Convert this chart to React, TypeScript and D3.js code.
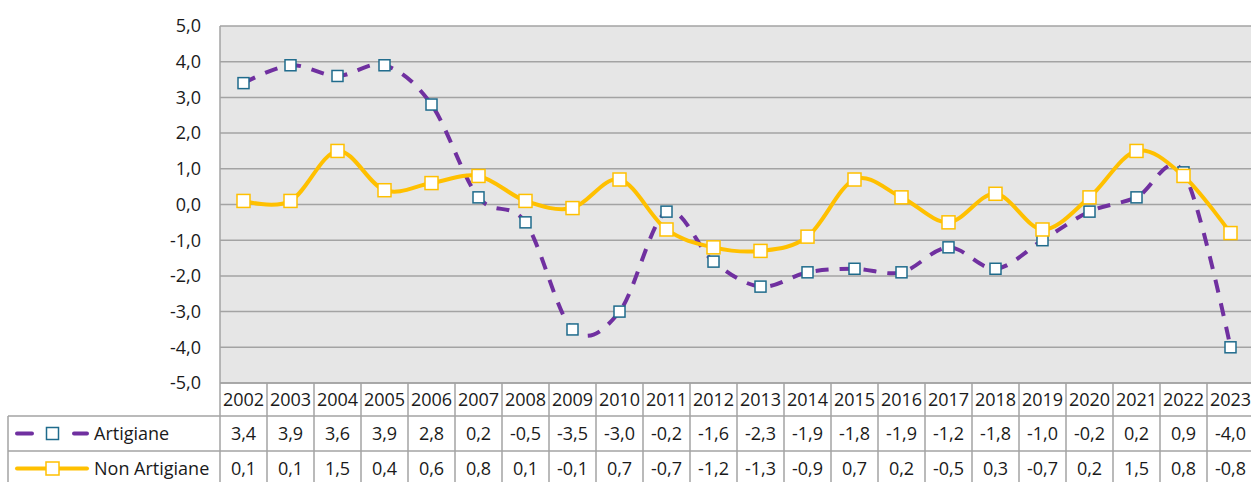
import * as d3 from 'd3';
import { useEffect, useRef } from 'react';

const years = ['2002', '2003', '2004', '2005', '2006', '2007', '2008', '2009', '2010', '2011', '2012', '2013', '2014', '2015', '2016', '2017', '2018', '2019', '2020', '2021', '2022', '2023'];
const artigiane = [3.4, 3.9, 3.6, 3.9, 2.8, 0.2, -0.5, -3.5, -3.0, -0.2, -1.6, -2.3, -1.9, -1.8, -1.9, -1.2, -1.8, -1.0, -0.2, 0.2, 0.9, -4.0];
const nonArtigiane = [0.1, 0.1, 1.5, 0.4, 0.6, 0.8, 0.1, -0.1, 0.7, -0.7, -1.2, -1.3, -0.9, 0.7, 0.2, -0.5, 0.3, -0.7, 0.2, 1.5, 0.8, -0.8];
const yTicks = [-5, -4, -3, -2, -1, 0, 1, 2, 3, 4, 5];

const fmt = (v: number) => v.toFixed(1).replace('.', ',');

export default function App() {
    const ref = useRef<HTMLDivElement>(null);

    useEffect(() => {
        const width = 1251;
        const height = 482;
        const plot = { left: 220, right: 1254, top: 26, bottom: 383 };
        const headH = 33;
        const rowH = 35;
        const tableLeft = 8;
        const font = '"Open Sans", Lato, sans-serif';
        const fontSize = 18;
        const gridColor = '#a3a3a3';
        const purple = '#7030a0';
        const gold = '#ffc000';
        const markerBlue = '#1f6b8c';
        const textColor = '#1a1a1a';

        const svg = d3.create('svg')
            .attr('width', width)
            .attr('height', height)
            .style('position', 'absolute')
            .style('left', 0)
            .style('top', 0)
            .style('font-family', font);

        const x = d3.scaleBand<string>().domain(years).range([plot.left, plot.right]).padding(0);
        const y = d3.scaleLinear().domain([-5, 5]).range([plot.bottom, plot.top]);
        const cx = (i: number) => (x(years[i]) as number) + x.bandwidth() / 2;

        // plot background
        svg.append('rect')
            .attr('x', plot.left).attr('y', plot.top)
            .attr('width', plot.right - plot.left).attr('height', plot.bottom - plot.top)
            .attr('fill', '#e6e6e6');

        // gridlines
        svg.append('g')
            .selectAll('line')
            .data(yTicks)
            .join('line')
            .attr('x1', plot.left).attr('x2', plot.right)
            .attr('y1', d => y(d)).attr('y2', d => y(d))
            .attr('stroke', gridColor).attr('stroke-width', 1.5);

        svg.append('line')
            .attr('x1', plot.left).attr('x2', plot.left)
            .attr('y1', plot.top).attr('y2', plot.bottom)
            .attr('stroke', gridColor).attr('stroke-width', 1.5);

        // y labels
        svg.append('g')
            .selectAll('text')
            .data(yTicks)
            .join('text')
            .attr('x', 201)
            .attr('y', d => y(d))
            .attr('dy', '0.35em')
            .attr('text-anchor', 'end')
            .attr('font-size', fontSize)
            .attr('fill', textColor)
            .text(d => fmt(d));

        const line = d3.line<number>()
            .x((d, i) => cx(i))
            .y(d => y(d))
            .curve(d3.curveCardinal.tension(0));

        // Artigiane
        svg.append('path')
            .attr('d', line(artigiane))
            .attr('fill', 'none')
            .attr('stroke', purple)
            .attr('stroke-width', 4)
            .attr('stroke-dasharray', '13 11');

        svg.append('g')
            .selectAll('rect')
            .data(artigiane)
            .join('rect')
            .attr('x', (d, i) => cx(i) - 5.5)
            .attr('y', d => y(d) - 5.5)
            .attr('width', 11).attr('height', 11)
            .attr('fill', '#fff')
            .attr('stroke', markerBlue)
            .attr('stroke-width', 1.5);

        // Non Artigiane
        svg.append('path')
            .attr('d', line(nonArtigiane))
            .attr('fill', 'none')
            .attr('stroke', gold)
            .attr('stroke-width', 4);

        svg.append('g')
            .selectAll('rect')
            .data(nonArtigiane)
            .join('rect')
            .attr('x', (d, i) => cx(i) - 6.5)
            .attr('y', d => y(d) - 6.5)
            .attr('width', 13).attr('height', 13)
            .attr('fill', '#fff')
            .attr('stroke', gold)
            .attr('stroke-width', 1.5);

        // data table
        const table = svg.append('g');
        const row1 = plot.bottom;
        const row2 = row1 + headH;
        const row3 = row2 + rowH;
        const row4 = row3 + rowH;

        // horizontal lines
        [[plot.left, row1], [tableLeft, row2], [tableLeft, row3], [tableLeft, row4]].forEach(([x0, yy]) => {
            table.append('line')
                .attr('x1', x0).attr('x2', plot.right)
                .attr('y1', yy).attr('y2', yy)
                .attr('stroke', gridColor).attr('stroke-width', 1.5);
        });
        // vertical lines
        years.forEach((yr) => {
            table.append('line')
                .attr('x1', x(yr) as number).attr('x2', x(yr) as number)
                .attr('y1', row1).attr('y2', row4)
                .attr('stroke', gridColor).attr('stroke-width', 1.5);
        });
        table.append('line')
            .attr('x1', plot.right).attr('x2', plot.right)
            .attr('y1', row1).attr('y2', row4)
            .attr('stroke', gridColor).attr('stroke-width', 1.5);
        table.append('line')
            .attr('x1', tableLeft).attr('x2', tableLeft)
            .attr('y1', row2).attr('y2', row4)
            .attr('stroke', gridColor).attr('stroke-width', 1.5);

        const cellText = (vals: string[], yy: number, h: number) => {
            table.append('g')
                .selectAll('text')
                .data(vals)
                .join('text')
                .attr('x', (d, i) => cx(i))
                .attr('y', yy + h / 2)
                .attr('dy', '0.35em')
                .attr('text-anchor', 'middle')
                .attr('font-size', fontSize)
                .attr('fill', textColor)
                .text(d => d);
        };
        cellText(years, row1, headH);
        cellText(artigiane.map(fmt), row2, rowH);
        cellText(nonArtigiane.map(fmt), row3, rowH);

        // legend keys
        const ly2 = row2 + rowH / 2;
        const ly3 = row3 + rowH / 2;
        table.append('line')
            .attr('x1', 17).attr('x2', 32).attr('y1', ly2).attr('y2', ly2)
            .attr('stroke', purple).attr('stroke-width', 4).attr('stroke-linecap', 'round');
        table.append('line')
            .attr('x1', 74).attr('x2', 87).attr('y1', ly2).attr('y2', ly2)
            .attr('stroke', purple).attr('stroke-width', 4).attr('stroke-linecap', 'round');
        table.append('rect')
            .attr('x', 46.5).attr('y', ly2 - 6).attr('width', 12).attr('height', 12)
            .attr('fill', '#fff').attr('stroke', markerBlue).attr('stroke-width', 1.5);
        table.append('line')
            .attr('x1', 17).attr('x2', 87).attr('y1', ly3).attr('y2', ly3)
            .attr('stroke', gold).attr('stroke-width', 4).attr('stroke-linecap', 'round');
        table.append('rect')
            .attr('x', 46).attr('y', ly3 - 6.5).attr('width', 13).attr('height', 13)
            .attr('fill', '#fff').attr('stroke', gold).attr('stroke-width', 1.5);

        table.append('text')
            .attr('x', 94).attr('y', ly2).attr('dy', '0.35em')
            .attr('font-size', fontSize).attr('fill', textColor).text('Artigiane');
        table.append('text')
            .attr('x', 94).attr('y', ly3).attr('dy', '0.35em')
            .attr('font-size', fontSize).attr('fill', textColor).text('Non Artigiane');

        ref.current?.append(svg.node() as SVGSVGElement);
        return () => { svg.remove(); };
    }, []);

    return <div ref={ref}></div>;
}
